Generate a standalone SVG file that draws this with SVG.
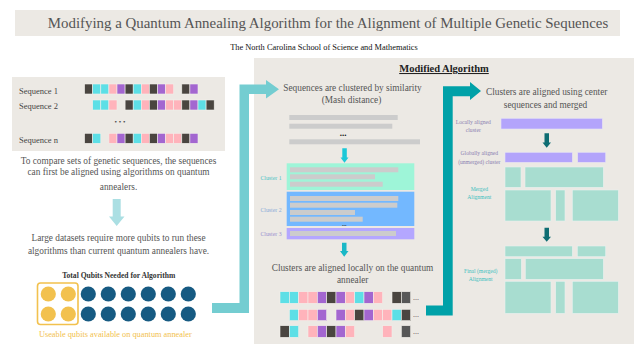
<svg xmlns="http://www.w3.org/2000/svg" width="634" height="344" viewBox="0 0 634 344">
<style>
text{font-family:"Liberation Serif","Times New Roman",serif;fill:#555}
.t{font-size:9.3px}
.lbl{font-size:8.5px;fill:#444}
.d{fill:#4a4540;stroke:#f2f0ec;stroke-width:0.6}
.g{fill:#575757;stroke:#f2f0ec;stroke-width:0.6}
.c{fill:#5ddfe6;stroke:#f2f0ec;stroke-width:0.6}
.k{fill:#ffb3bb;stroke:#f2f0ec;stroke-width:0.6}
.u{fill:#a366d0;stroke:#f2f0ec;stroke-width:0.6}
.bar{fill:#cccccc}
.cl{font-size:5.8px}
.sm{font-size:5.6px}
.mint{fill:#a8ddd0;stroke:#e6f1ee;stroke-width:0.6}
.pur{fill:#b3a4fb;stroke:#e6e3f4;stroke-width:0.6}
.q{fill:#165a82}
.y{fill:#f2c14e}
</style>
<rect width="634" height="344" fill="#ffffff"/>
<g id="title">
<rect x="15" y="10" width="605" height="26" fill="#ece9e4"/>
<text x="328" y="27.5" font-size="14.9" text-anchor="middle" fill="#555">Modifying a Quantum Annealing Algorithm for the Alignment of Multiple Genetic Sequences</text>
<text x="324" y="50" font-size="8.4" text-anchor="middle" style="fill:#111">The North Carolina School of Science and Mathematics</text>
</g>
<g id="panel-right-bg">
<rect x="254" y="58" width="380" height="286" fill="#ece9e4"/>
<text x="444" y="72" font-size="10.5" font-weight="bold" text-anchor="middle" style="fill:#222" text-decoration="underline">Modified Algorithm</text>
</g>
<g id="sequences">
<rect x="12" y="77" width="213" height="74" fill="#ece9e4"/>
<text class="lbl" x="19" y="94">Sequence 1</text>
<text class="lbl" x="19" y="109">Sequence 2</text>
<text class="lbl" x="19" y="143">Sequence n</text>
<text x="120" y="124" font-size="7" text-anchor="middle" style="fill:#444">• • •</text>
<g>
<rect class="d" x="84.6" y="84" width="8.1" height="10"/><rect class="c" x="92.7" y="84" width="8.1" height="10"/><rect class="c" x="100.8" y="84" width="8.1" height="10"/><rect class="k" x="108.9" y="84" width="8.1" height="10"/><rect class="u" x="117" y="84" width="8.1" height="10"/><rect class="d" x="125.1" y="84" width="8.1" height="10"/><rect class="c" x="133.2" y="84" width="8.1" height="10"/><rect class="k" x="141.3" y="84" width="8.1" height="10"/><rect class="d" x="149.4" y="84" width="8.1" height="10"/><rect class="u" x="157.5" y="84" width="8.1" height="10"/><rect class="k" x="165.6" y="84" width="8.1" height="10"/><rect class="d" x="181.8" y="84" width="8.1" height="10"/><rect class="u" x="189.9" y="84" width="8.1" height="10"/>
</g>
<g>
<rect class="c" x="92.7" y="100" width="8.1" height="10"/><rect class="c" x="100.8" y="100" width="8.1" height="10"/><rect class="k" x="108.9" y="100" width="8.1" height="10"/><rect class="d" x="125.1" y="100" width="8.1" height="10"/><rect class="c" x="133.2" y="100" width="8.1" height="10"/><rect class="k" x="141.3" y="100" width="8.1" height="10"/><rect class="d" x="149.4" y="100" width="8.1" height="10"/><rect class="u" x="157.5" y="100" width="8.1" height="10"/><rect class="k" x="165.6" y="100" width="8.1" height="10"/><rect class="k" x="173.7" y="100" width="8.1" height="10"/><rect class="d" x="181.8" y="100" width="8.1" height="10"/><rect class="u" x="189.9" y="100" width="8.1" height="10"/><rect class="c" x="198" y="100" width="8.1" height="10"/><rect class="d" x="206.1" y="100" width="8.1" height="10"/>
</g>
<g>
<rect class="d" x="84.6" y="133.3" width="8.1" height="10"/><rect class="c" x="92.7" y="133.3" width="8.1" height="10"/><rect class="k" x="108.9" y="133.3" width="8.1" height="10"/><rect class="u" x="117" y="133.3" width="8.1" height="10"/><rect class="d" x="125.1" y="133.3" width="8.1" height="10"/><rect class="c" x="133.2" y="133.3" width="8.1" height="10"/><rect class="k" x="141.3" y="133.3" width="8.1" height="10"/><rect class="d" x="149.4" y="133.3" width="8.1" height="10"/><rect class="u" x="157.5" y="133.3" width="8.1" height="10"/><rect class="k" x="165.6" y="133.3" width="8.1" height="10"/><rect class="k" x="173.7" y="133.3" width="8.1" height="10"/><rect class="d" x="181.8" y="133.3" width="8.1" height="10"/><rect class="u" x="189.9" y="133.3" width="8.1" height="10"/>
</g>
</g>
<g id="intro-text">
<text class="t" x="118.5" y="163.5" text-anchor="middle">To compare sets of genetic sequences, the sequences</text>
<text class="t" x="118.5" y="175" text-anchor="middle">can first be aligned using algorithms on quantum</text>
<text class="t" x="118.5" y="190" text-anchor="middle">annealers.</text>
</g>
<g id="qubit-text">
<text class="t" x="118.5" y="240.5" text-anchor="middle">Large datasets require more qubits to run these</text>
<text class="t" x="118.5" y="254" text-anchor="middle">algorithms than current quantum annealers have.</text>
</g>
<g id="qubits">
<text x="118.7" y="277.7" font-size="7.6" font-weight="bold" text-anchor="middle" style="fill:#333">Total Qubits Needed for Algorithm</text>
<rect x="37.5" y="283" width="40.5" height="41.5" rx="3" fill="none" stroke="#f2c14e" stroke-width="1.6"/>
<circle class="y" cx="48.3" cy="294" r="7.6"/><circle class="y" cx="68.3" cy="294" r="7.6"/>
<circle class="y" cx="48.3" cy="314" r="7.6"/><circle class="y" cx="68.3" cy="314" r="7.6"/>
<circle class="q" cx="88.3" cy="294" r="7.6"/><circle class="q" cx="108.3" cy="294" r="7.6"/><circle class="q" cx="128.3" cy="294" r="7.6"/><circle class="q" cx="148.3" cy="294" r="7.6"/><circle class="q" cx="168.3" cy="294" r="7.6"/><circle class="q" cx="188.3" cy="294" r="7.6"/>
<circle class="q" cx="88.3" cy="314" r="7.6"/><circle class="q" cx="108.3" cy="314" r="7.6"/><circle class="q" cx="128.3" cy="314" r="7.6"/><circle class="q" cx="148.3" cy="314" r="7.6"/><circle class="q" cx="168.3" cy="314" r="7.6"/><circle class="q" cx="188.3" cy="314" r="7.6"/>
<text x="115.3" y="337" font-size="8.3" text-anchor="middle" style="fill:#f2c14e">Useable qubits available on quantum annealer</text>
</g>
<g id="clustering">
<text class="t" x="352.5" y="90.5" text-anchor="middle">Sequences are clustered by similarity</text>
<text class="t" x="351.5" y="102.5" text-anchor="middle">(Mash distance)</text>
<rect class="bar" x="289.3" y="115" width="108.4" height="5"/>
<rect class="bar" x="289.3" y="123.7" width="103" height="5"/>
<text x="343" y="136" font-size="9" font-weight="bold" text-anchor="middle" style="fill:#111">...</text>
<rect class="bar" x="289.3" y="139.3" width="130.7" height="5"/>
</g>
<g id="clusters">
<rect x="286.7" y="163.3" width="127.6" height="26.7" fill="#9ef5d8"/>
<rect class="bar" x="290" y="167.3" width="108.3" height="5"/>
<rect class="bar" x="290" y="174.3" width="85" height="5"/>
<rect class="bar" x="290" y="181.7" width="92.7" height="5"/>
<text class="cl" x="271" y="180.3" text-anchor="middle" style="fill:#4cc4c4">Cluster 1</text>
<rect x="286.7" y="191.7" width="127.6" height="34.3" fill="#73b8ff"/>
<rect class="bar" x="290" y="196" width="108.3" height="5"/>
<rect class="bar" x="290" y="202.7" width="107.3" height="5"/>
<rect class="bar" x="290" y="210" width="65" height="5"/>
<rect class="bar" x="290" y="216.7" width="72.7" height="5"/>
<text x="344.3" y="226" font-size="6" font-weight="bold" text-anchor="middle" style="fill:#222">...</text>
<text class="cl" x="271" y="212" text-anchor="middle" style="fill:#8aaad8">Cluster 2</text>
<rect x="286.7" y="228" width="127.6" height="11.3" fill="#b4a7ff"/>
<rect class="bar" x="290" y="231" width="106" height="5"/>
<text class="cl" x="271" y="236" text-anchor="middle" style="fill:#9a8fcf">Cluster 3</text>
</g>
<g id="local-align">
<text class="t" x="352.5" y="270.5" text-anchor="middle">Clusters are aligned locally on the quantum</text>
<text class="t" x="352.7" y="282.5" text-anchor="middle">annealer</text>
<g>
<rect class="c" x="280" y="291.7" width="9.33" height="11.6"/><rect class="c" x="289.33" y="291.7" width="9.33" height="11.6"/><rect class="k" x="298.67" y="291.7" width="9.33" height="11.6"/><rect class="k" x="308" y="291.7" width="9.33" height="11.6"/><rect class="u" x="317.33" y="291.7" width="9.33" height="11.6"/><rect class="d" x="326.67" y="291.7" width="9.33" height="11.6"/><rect class="u" x="336" y="291.7" width="9.33" height="11.6"/><rect class="k" x="345.33" y="291.7" width="9.33" height="11.6"/><rect class="c" x="354.67" y="291.7" width="9.33" height="11.6"/><rect class="u" x="364" y="291.7" width="9.33" height="11.6"/><rect class="k" x="373.33" y="291.7" width="9.33" height="11.6"/><rect class="d" x="392" y="291.7" width="9.33" height="11.6"/><rect class="g" x="401.33" y="291.7" width="9.33" height="11.6"/>
</g>
<g>
<rect class="c" x="289.33" y="309.3" width="9.33" height="11.4"/><rect class="k" x="298.67" y="309.3" width="9.33" height="11.4"/><rect class="k" x="308" y="309.3" width="9.33" height="11.4"/><rect class="u" x="317.33" y="309.3" width="9.33" height="11.4"/><rect class="u" x="336" y="309.3" width="9.33" height="11.4"/><rect class="k" x="345.33" y="309.3" width="9.33" height="11.4"/><rect class="d" x="354.67" y="309.3" width="9.33" height="11.4"/><rect class="u" x="364" y="309.3" width="9.33" height="11.4"/><rect class="k" x="373.33" y="309.3" width="9.33" height="11.4"/><rect class="k" x="382.67" y="309.3" width="9.33" height="11.4"/><rect class="c" x="392" y="309.3" width="9.33" height="11.4"/><rect class="d" x="401.33" y="309.3" width="9.33" height="11.4"/>
</g>
<g>
<rect class="d" x="280" y="325.7" width="9.33" height="11.6"/><rect class="c" x="289.33" y="325.7" width="9.33" height="11.6"/><rect class="k" x="308" y="325.7" width="9.33" height="11.6"/><rect class="u" x="317.33" y="325.7" width="9.33" height="11.6"/><rect class="d" x="326.67" y="325.7" width="9.33" height="11.6"/><rect class="u" x="336" y="325.7" width="9.33" height="11.6"/><rect class="k" x="345.33" y="325.7" width="9.33" height="11.6"/><rect class="k" x="382.67" y="325.7" width="9.33" height="11.6"/><rect class="g" x="401.33" y="325.7" width="9.33" height="11.6"/>
</g>
<text x="413" y="300" font-size="8" style="fill:#444">...</text>
<text x="413" y="316.5" font-size="8" style="fill:#444">...</text>
<text x="413" y="333.5" font-size="8" style="fill:#444">...</text>
</g>
<g id="merge">
<text class="t" x="546.7" y="94.5" text-anchor="middle">Clusters are aligned using center</text>
<text class="t" x="545.5" y="107.5" text-anchor="middle">sequences and merged</text>
<text class="sm" x="473.3" y="123.5" text-anchor="middle" style="fill:#8a80b0">Locally aligned</text>
<text class="sm" x="473.3" y="131.5" text-anchor="middle" style="fill:#8a80b0">cluster</text>
<rect class="pur" x="501" y="118.3" width="101.3" height="10.7"/>
<text class="sm" x="479.3" y="155.3" text-anchor="middle" style="fill:#8a80b0">Globally aligned</text>
<text class="sm" x="479.3" y="163.5" text-anchor="middle" style="fill:#8a80b0">(unmerged) cluster</text>
<rect class="pur" x="505" y="152.3" width="67.3" height="10"/>
<rect class="pur" x="577.7" y="152.3" width="28" height="10"/>
<rect class="mint" x="505" y="167" width="16" height="20.3"/>
<rect class="mint" x="525" y="167" width="78.3" height="20.3"/>
<rect class="mint" x="505" y="190" width="46" height="31"/>
<rect class="mint" x="555.7" y="190" width="9.3" height="31"/>
<rect class="mint" x="572.3" y="190" width="46" height="31"/>
<text class="sm" x="479.3" y="191" text-anchor="middle" style="fill:#40c0c0">Merged</text>
<text class="sm" x="479.3" y="199" text-anchor="middle" style="fill:#40c0c0">Alignment</text>
<rect class="mint" x="505" y="246" width="67.3" height="10.7"/>
<rect class="mint" x="577.3" y="246" width="28.4" height="10.7"/>
<rect class="mint" x="505" y="258.7" width="16.3" height="20.6"/>
<rect class="mint" x="525.3" y="258.7" width="78" height="20.6"/>
<rect class="mint" x="505" y="281.3" width="46" height="32"/>
<rect class="mint" x="555.7" y="281.3" width="9.3" height="32"/>
<rect class="mint" x="572.3" y="281.3" width="46" height="32"/>
<text class="sm" x="480.7" y="272.7" text-anchor="middle" style="fill:#40c0c0">Final (merged)</text>
<text class="sm" x="480.7" y="280.7" text-anchor="middle" style="fill:#40c0c0">Alignment</text>
</g>
<g id="connectors">
<polygon points="112.7,199 120.7,199 120.7,216.5 124.5,216.5 116.7,226 109,216.5 112.7,216.5" fill="#abdfe3"/>
<polygon points="212,303 239.5,303 239.5,84.5 266,84.5 266,80 279,89.3 266,98.5 266,94 249,94 249,313 212,313" fill="#74cdd1"/>
<polygon points="342.3,148.3 346.8,148.3 346.8,157.5 348.5,157.5 344.5,162.7 340.5,157.5 342.3,157.5" fill="#1cc8d8"/>
<polygon points="342,242.7 346.5,242.7 346.5,251 348.5,251 344.2,256.7 340,251 342,251" fill="#1ab8c6"/>
<polygon points="426,305.5 443,305.5 443,86.3 470,86.3 470,82 481,91 470,100 470,96.3 452.7,96.3 452.7,315.5 426,315.5" fill="#00a1a8"/>
<polygon points="544.5,133.3 549,133.3 549,142.5 551,142.5 546.7,147.7 542.5,142.5 544.5,142.5" fill="#0e6d72"/>
<polygon points="544.5,227.7 549,227.7 549,236.7 551,236.7 546.7,241.7 542.5,236.7 544.5,236.7" fill="#0e6d72"/>
</g>
</svg>
